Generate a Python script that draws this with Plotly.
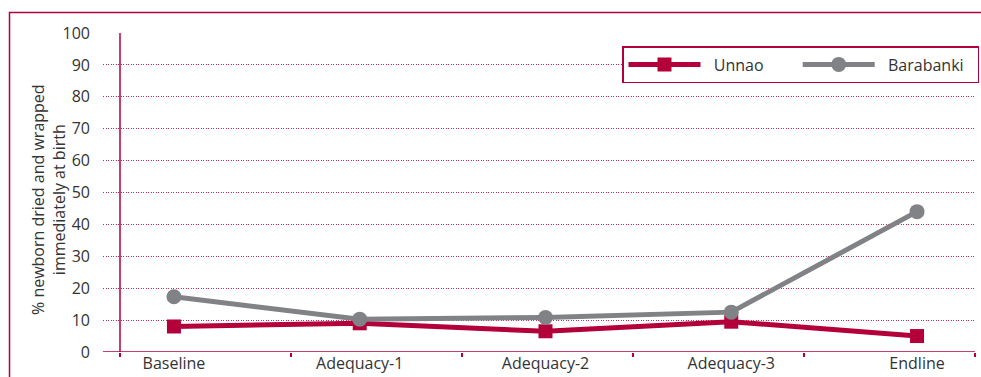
import plotly.graph_objects as go

# Survey rounds and the share of newborns dried and wrapped immediately at birth (%)
rounds = ["Baseline", "Adequacy-1", "Adequacy-2", "Adequacy-3", "Endline"]
unnao = [8, 9, 6.5, 9.5, 5]
barabanki = [17.3, 10.3, 10.8, 12.5, 44]
y_ticks = [0, 10, 20, 30, 40, 50, 60, 70, 80, 90, 100]

CRIMSON = "#b3003b"
GRID = "#c2305a"
GREY = "#818286"
TEXT = "#333333"
FONT = "Open Sans"
FS = 16
NB = "\u00a0"

W, H = 981, 377
ML, MR, MT, MB = 103, 6, 33, 25
PW, PH = W - ML - MR, H - MT - MB

idx = list(range(len(rounds)))

fig = go.Figure()
fig.add_trace(go.Scatter(
    x=idx, y=unnao, name=NB * 2 + "Unnao" + NB * 7, mode="lines+markers",
    line=dict(color=CRIMSON, width=5),
    marker=dict(symbol="square", size=14, color=CRIMSON),
))
fig.add_trace(go.Scatter(
    x=idx, y=barabanki, name=NB * 2 + "Barabanki" + NB * 2, mode="lines+markers",
    line=dict(color=GREY, width=5),
    marker=dict(symbol="circle", size=15, color=GREY),
))

# boundary ticks between rounds live on a second, overlaid x axis
fig.add_trace(go.Scatter(x=[0, 5], y=[None, None], xaxis="x2",
                         showlegend=False, hoverinfo="skip"))

fig.update_layout(
    width=W, height=H,
    margin=dict(l=ML, r=MR, t=MT, b=MB, autoexpand=False),
    paper_bgcolor="white", plot_bgcolor="white",
    font=dict(family=FONT, size=FS, color=TEXT),
    xaxis=dict(
        range=[-0.382, 4.312],
        tickvals=idx, ticktext=rounds,
        ticks="", showgrid=False, zeroline=False, showline=False,
        tickfont=dict(size=FS, color=TEXT),
    ),
    xaxis2=dict(
        overlaying="x", side="bottom",
        range=[-17 / 171, 5],
        tickvals=[0, 1, 2, 3, 4, 5], showticklabels=False,
        ticks="outside", ticklen=4, tickwidth=1.5, tickcolor=CRIMSON,
        showgrid=False, zeroline=False, showline=False,
    ),
    yaxis=dict(
        range=[0, 100], tickvals=y_ticks,
        showgrid=True, gridcolor=GRID, griddash="1px,1.5px", gridwidth=1,
        zeroline=False, showline=False, ticks="", ticklabelstandoff=12,
        tickfont=dict(size=FS, color=TEXT),
    ),
    legend=dict(
        orientation="h", x=(622 - ML) / PW, y=1 - (46 - MT) / PH,
        xanchor="left", yanchor="top",
        bordercolor=CRIMSON, borderwidth=1.5, bgcolor="white",
        itemwidth=72, font=dict(size=FS, color=TEXT),
        tracegroupgap=0,
    ),
    annotations=[
        dict(text="% newborn dried and wrapped<br>immediately at birth",
             textangle=-90, xref="paper", yref="paper",
             x=(48 - ML) / PW, y=1 - (200 - MT) / PH,
             xanchor="center", yanchor="middle", showarrow=False,
             font=dict(size=FS, color=TEXT)),
    ],
    shapes=[
        # baseline at zero
        dict(type="line", xref="paper", yref="y", x0=0, x1=1, y0=0, y1=0,
             line=dict(color=CRIMSON, width=1.5), layer="above"),
        # vertical axis line at the first boundary
        dict(type="line", xref="x2", yref="y", x0=0, x1=0, y0=0, y1=100,
             line=dict(color=CRIMSON, width=1.5), layer="above"),
        # outer frame
        dict(type="rect", xref="paper", yref="paper",
             x0=(9.5 - ML) / PW, x1=1.2,
             y0=-0.3, y1=1 + (MT - 12.5) / PH,
             line=dict(color=CRIMSON, width=1.5), fillcolor="rgba(0,0,0,0)"),
    ],
)

fig.write_html("out.html")
